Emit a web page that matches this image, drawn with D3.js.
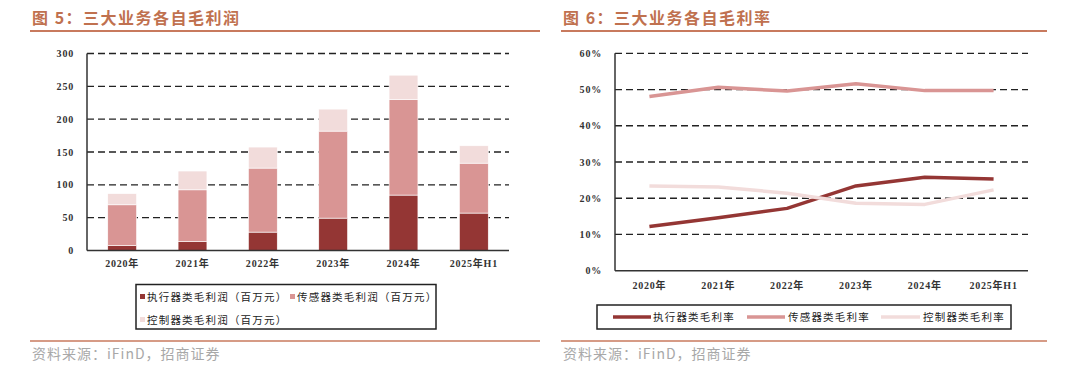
<!DOCTYPE html>
<html>
<head>
<meta charset="utf-8">
<script src="https://cdn.jsdelivr.net/npm/d3@7"></script>
<style>
  body { margin: 0; background: #fff; }
  svg { display: block; }
  .tick-label { font-family: "Liberation Serif", "Times New Roman", "Noto Sans CJK SC", serif; font-weight: bold; font-size: 10px; fill: #333; letter-spacing: 0.8px; }
  .legend-text { font-family: "Liberation Serif", "Noto Sans CJK SC", serif; font-size: 10.5px; fill: #222; letter-spacing: 1.2px; }
  .title { font-family: "Noto Sans CJK SC", sans-serif; font-weight: bold; font-size: 16px; fill: #c0714f; letter-spacing: 1.5px; }
  .source { font-family: "Noto Sans CJK SC", sans-serif; font-size: 14px; fill: #a8a8a8; letter-spacing: 1px; }
</style>
</head>
<body>
<div id="chart"></div>
<script>
// categories
var years = ['2020年', '2021年', '2022年', '2023年', '2024年', '2025年H1'];

// gross profit, million yuan
var actuatorProfit = [7.6, 13.7, 28, 49.3, 84.4, 57];
var sensorProfit = [62, 78.7, 97.5, 132.5, 145.6, 76];
var controlProfit = [17, 28.6, 32, 33.5, 37, 26.5];
var profitTicks = [0, 50, 100, 150, 200, 250, 300];

// gross margin, %
var actuatorMargin = [12.2, 14.6, 17.2, 23.4, 25.8, 25.3];
var sensorMargin = [48.1, 50.6, 49.6, 51.6, 49.7, 49.7];
var controlMargin = [23.4, 23.1, 21.4, 18.6, 18.3, 22.3];
var marginTicks = [0, 10, 20, 30, 40, 50, 60];

var profitNames = ['执行器类毛利润（百万元）', '传感器类毛利润（百万元）', '控制器类毛利润（百万元）'];
var marginNames = ['执行器类毛利率', '传感器类毛利率', '控制器类毛利率'];
var colors = ['#943634', '#d99594', '#f2dcdb'];

var svg = d3.select('#chart').append('svg')
    .attr('width', 1080)
    .attr('height', 372);

function header(x0, x1, title, lineY, srcY){
    svg.append('text').attr('class', 'title')
        .attr('x', x0 + 2).attr('y', 24).text(title);
    svg.append('line')
        .attr('x1', x0).attr('x2', x1).attr('y1', 31).attr('y2', 31)
        .attr('stroke', '#c87a5e').attr('stroke-width', 2);
    svg.append('line')
        .attr('x1', x0).attr('x2', x1).attr('y1', lineY).attr('y2', lineY)
        .attr('stroke', '#c87a5e').attr('stroke-width', 1.5);
    svg.append('text').attr('class', 'source')
        .attr('x', x0 + 2).attr('y', srcY).text('资料来源：iFinD，招商证券');
}

function grid(g, y, ticks, x0, x1, fmt){
    ticks.forEach(function(t){
        if(t > 0){
            g.append('line')
                .attr('x1', x0).attr('x2', x1)
                .attr('y1', y(t)).attr('y2', y(t))
                .attr('stroke', '#222').attr('stroke-width', 1.3)
                .attr('stroke-dasharray', '7,4');
        }
        g.append('text').attr('class', 'tick-label')
            .attr('x', x0 - 13).attr('y', y(t) + 3.5)
            .attr('text-anchor', 'end')
            .text(fmt(t));
    });
}

// ---------- left: stacked bars ----------
header(30, 540, '图 5：三大业务各自毛利润', 341, 359);

var left = svg.append('g');
var x1 = d3.scaleBand().domain(years).range([87, 509]).paddingInner(0.59).paddingOuter(0.295);
var y1 = d3.scaleLinear().domain([0, 300]).range([250.5, 53.5]);

grid(left, y1, profitTicks, 87, 509, function(d){ return d; });

var stackData = years.map(function(d, i){
    return {year: d, a: actuatorProfit[i], s: sensorProfit[i], c: controlProfit[i]};
});
var stacked = d3.stack().keys(['a', 's', 'c'])(stackData);

stacked.forEach(function(layer, k){
    left.selectAll(null).data(layer).enter().append('rect')
        .attr('x', function(d){ return x1(d.data.year); })
        .attr('width', x1.bandwidth())
        .attr('y', function(d){ return y1(d[1]); })
        .attr('height', function(d){ return y1(d[0]) - y1(d[1]); })
        .attr('fill', colors[k])
        .attr('stroke', '#fff').attr('stroke-width', 0.6);
});

left.append('line').attr('x1', 87).attr('x2', 87).attr('y1', 53.5).attr('y2', 250.5)
    .attr('stroke', '#333').attr('stroke-width', 1.5);
left.append('line').attr('x1', 87).attr('x2', 509).attr('y1', 250.5).attr('y2', 250.5)
    .attr('stroke', '#333').attr('stroke-width', 1.5);

years.forEach(function(d){
    left.append('text').attr('class', 'tick-label')
        .attr('x', x1(d) + x1.bandwidth() / 2).attr('y', 267)
        .attr('text-anchor', 'middle').text(d);
});

// legend
left.append('rect').attr('x', 136).attr('y', 284.5).attr('width', 300).attr('height', 44.5)
    .attr('fill', 'none').attr('stroke', '#222').attr('stroke-width', 1.5);
var legPos = [[140, 297], [290, 297], [140, 320]];
profitNames.forEach(function(name, k){
    left.append('rect').attr('x', legPos[k][0]).attr('y', legPos[k][1] - 3)
        .attr('width', 5).attr('height', 5).attr('fill', colors[k]);
    left.append('text').attr('class', 'legend-text')
        .attr('x', legPos[k][0] + 7).attr('y', legPos[k][1] + 4).text(name);
});

// ---------- right: lines ----------
header(561, 1047, '图 6：三大业务各自毛利率', 341, 359);

var right = svg.append('g');
var x2 = d3.scaleBand().domain(years).range([615, 1028]);
var y2 = d3.scaleLinear().domain([0, 60]).range([270.7, 53.3]);

grid(right, y2, marginTicks, 615, 1028, function(d){ return d + '%'; });

var line = d3.line()
    .x(function(d, i){ return x2(years[i]) + x2.bandwidth() / 2; })
    .y(function(d){ return y2(d); });

[actuatorMargin, sensorMargin, controlMargin].forEach(function(series, k){
    right.append('path').datum(series)
        .attr('d', line)
        .attr('fill', 'none')
        .attr('stroke', colors[k])
        .attr('stroke-width', 3.5)
        .attr('stroke-linejoin', 'round');
});

right.append('line').attr('x1', 615).attr('x2', 615).attr('y1', 53.3).attr('y2', 270.7)
    .attr('stroke', '#333').attr('stroke-width', 1.5);
right.append('line').attr('x1', 615).attr('x2', 1028).attr('y1', 270.7).attr('y2', 270.7)
    .attr('stroke', '#333').attr('stroke-width', 1.5);

years.forEach(function(d){
    right.append('text').attr('class', 'tick-label')
        .attr('x', x2(d) + x2.bandwidth() / 2).attr('y', 289)
        .attr('text-anchor', 'middle').text(d);
});

right.append('rect').attr('x', 597).attr('y', 305).attr('width', 414).attr('height', 24)
    .attr('fill', 'none').attr('stroke', '#222').attr('stroke-width', 1.5);
var legX = [[613, 651, 653], [747, 785, 788], [881, 920, 923]];
marginNames.forEach(function(name, k){
    right.append('line').attr('x1', legX[k][0]).attr('x2', legX[k][1])
        .attr('y1', 317).attr('y2', 317)
        .attr('stroke', colors[k]).attr('stroke-width', 3.5);
    right.append('text').attr('class', 'legend-text')
        .attr('x', legX[k][2]).attr('y', 321).text(name);
});
</script>
</body>
</html>
